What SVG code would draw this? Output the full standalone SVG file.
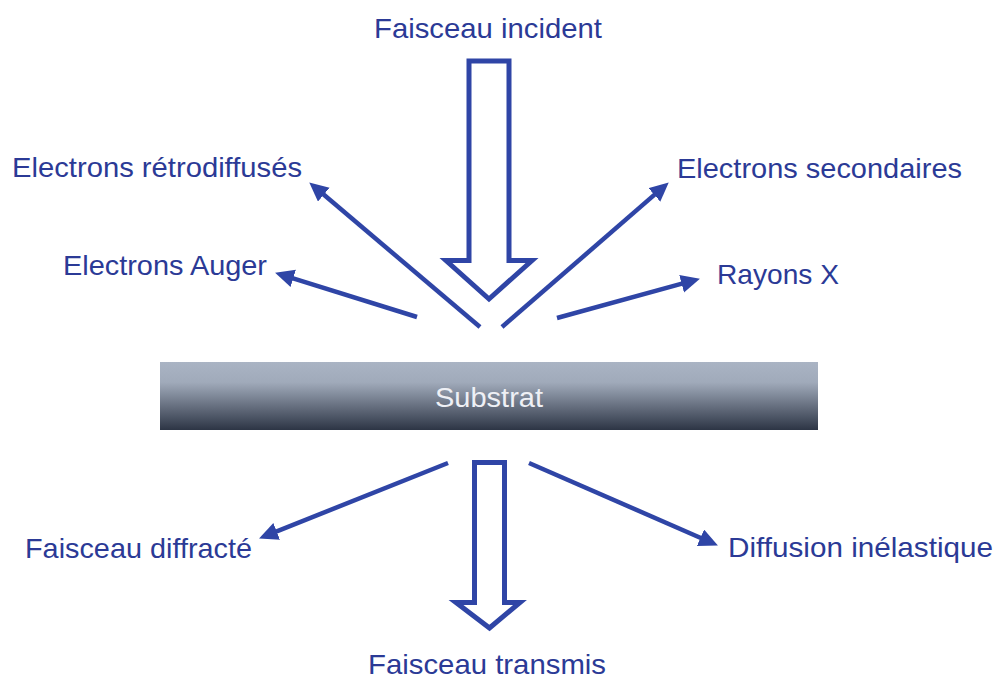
<svg xmlns="http://www.w3.org/2000/svg" width="995" height="680" viewBox="0 0 995 680">
<style>
.lbl{font-family:"Liberation Sans",Arial,sans-serif;font-size:28px;fill:#2b3a96}
.ln{stroke:#2f45a6;stroke-width:4.5;fill:none;marker-end:url(#ah)}
.blk{stroke:#2f45a6;stroke-width:5;fill:#fff;stroke-linejoin:miter}
</style>
<defs>
<marker id="ah" markerUnits="userSpaceOnUse" markerWidth="20" markerHeight="19" refX="6" refY="9" orient="auto">
<path d="M0,0 L19,9 L0,18 z" fill="#2f45a6"/>
</marker>
<linearGradient id="sub" x1="0" y1="0" x2="0" y2="1">
<stop offset="0" stop-color="#aab4c4"/>
<stop offset="0.3" stop-color="#a0aaba"/>
<stop offset="1" stop-color="#2d3545"/>
</linearGradient>
</defs>
<rect width="995" height="680" fill="#fff"/>
<g id="substrat">
<rect x="160" y="362" width="658" height="68" fill="url(#sub)"/>
<text x="489" y="407" text-anchor="middle" textLength="108" lengthAdjust="spacingAndGlyphs" style="font-family:'Liberation Sans',Arial,sans-serif;font-size:27px;fill:#eef0f5">Substrat</text>
</g>
<g id="faisceau-incident">
<path class="blk" d="M469,61 L509,61 L509,260.5 L532,260.5 L489,299 L446,260.5 L469,260.5 Z"/>
<text class="lbl" x="374" y="38" textLength="228" lengthAdjust="spacingAndGlyphs">Faisceau incident</text>
</g>
<g id="faisceau-transmis">
<path class="blk" d="M474.5,462.5 L504.5,462.5 L504.5,602.5 L520,602.5 L489.5,628 L456,602.5 L474.5,602.5 Z"/>
<text class="lbl" x="368" y="674" textLength="238" lengthAdjust="spacingAndGlyphs">Faisceau transmis</text>
</g>
<g id="electrons-retrodiffuses"><text class="lbl" x="12" y="177" textLength="290" lengthAdjust="spacingAndGlyphs">Electrons rétrodiffusés</text></g>
<g id="electrons-secondaires"><text class="lbl" x="677" y="178" textLength="285" lengthAdjust="spacingAndGlyphs">Electrons secondaires</text></g>
<g id="electrons-auger"><text class="lbl" x="63" y="275" textLength="204" lengthAdjust="spacingAndGlyphs">Electrons Auger</text></g>
<g id="rayons-x"><text class="lbl" x="717" y="284" textLength="122" lengthAdjust="spacingAndGlyphs">Rayons X</text></g>
<g id="faisceau-diffracte"><text class="lbl" x="25" y="558" textLength="227" lengthAdjust="spacingAndGlyphs">Faisceau diffracté</text></g>
<g id="diffusion-inelastique"><text class="lbl" x="728" y="557" textLength="265" lengthAdjust="spacingAndGlyphs">Diffusion inélastique</text></g>
<g id="connectors">
<path class="ln" d="M480,327 L319.2,190.8"/>
<path class="ln" d="M417,317 L287.5,276.6"/>
<path class="ln" d="M502,327 L658.9,190.9"/>
<path class="ln" d="M557,318 L687.4,282.2"/>
<path class="ln" d="M448,463 L271.1,533.6"/>
<path class="ln" d="M529,463 L706,540.2"/>
</g>
</svg>
